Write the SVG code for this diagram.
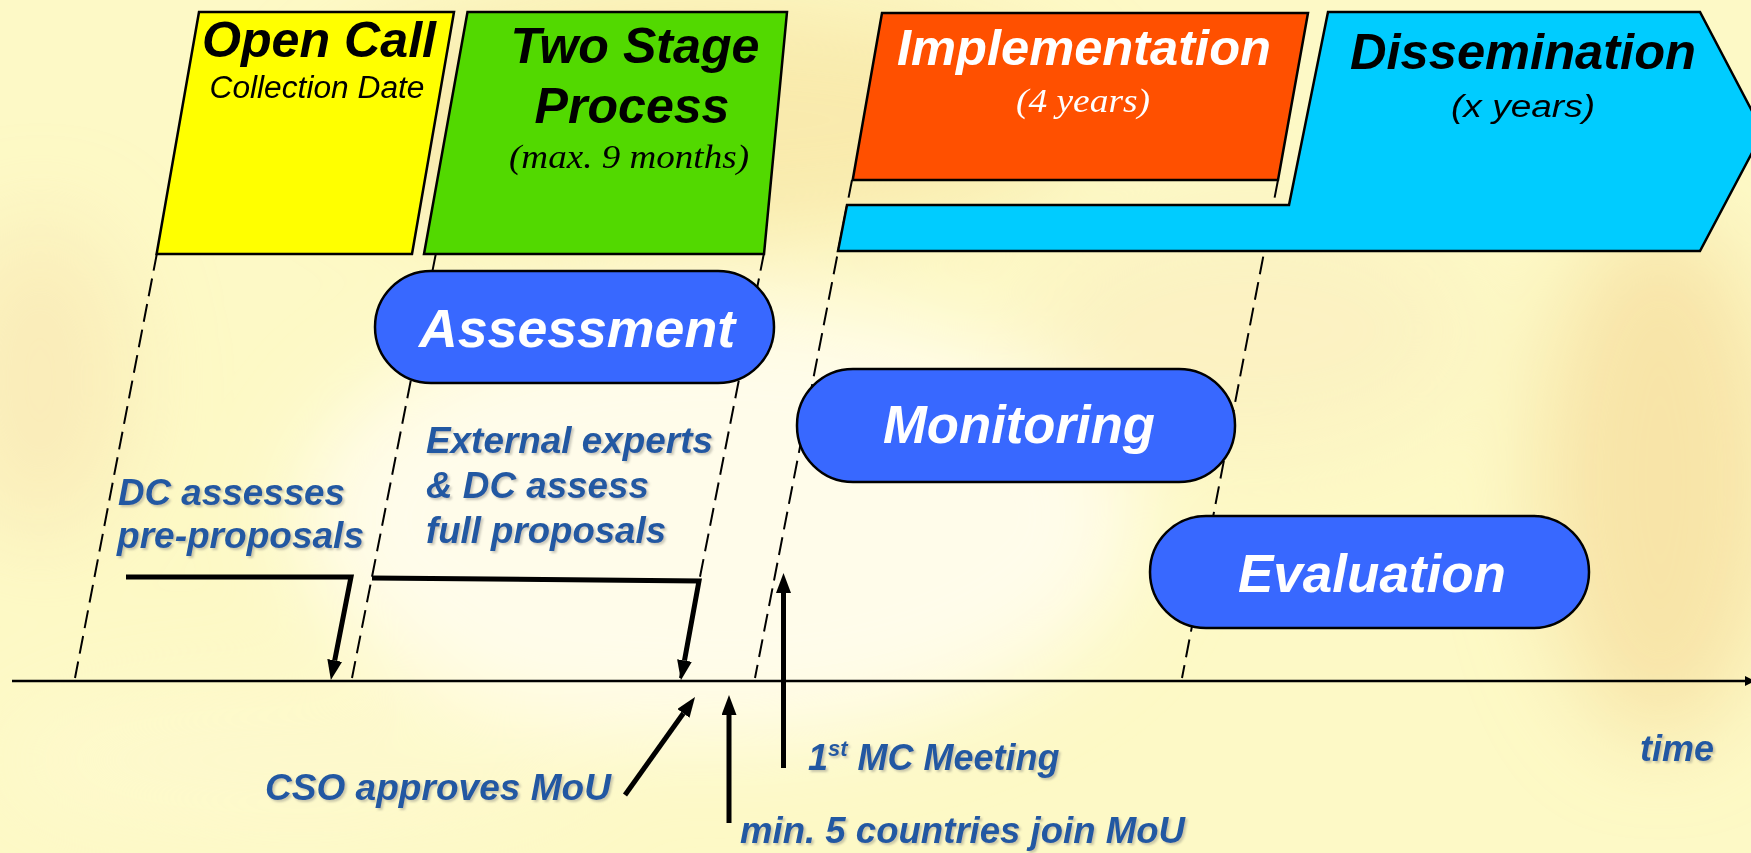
<svg xmlns="http://www.w3.org/2000/svg" width="1751" height="853" viewBox="0 0 1751 853">
<defs>
<style>
.title{font-family:"Liberation Sans",Arial,sans-serif;font-weight:bold;font-style:italic;font-size:50px;text-anchor:middle}
.sub{font-family:"Liberation Sans",Arial,sans-serif;font-style:italic;font-size:31px;text-anchor:middle}
.serif{font-family:"Liberation Serif","Times New Roman",serif;font-style:italic;font-size:34px;text-anchor:middle}
.pill rect{fill:#3868FF;stroke:#000;stroke-width:2.5}
.pilltxt{font-family:"Liberation Sans",Arial,sans-serif;font-weight:bold;font-style:italic;font-size:53px;fill:#fff;text-anchor:middle}
.lbl{font-family:"Liberation Sans",Arial,sans-serif;font-weight:bold;font-style:italic;font-size:36px;fill:#2459A2;filter:url(#shadow)}
.dash{stroke:#000;stroke-width:2;stroke-dasharray:18 8;fill:none}
.bar{stroke:#000;stroke-width:5;fill:none;stroke-linejoin:miter}
.box{stroke:#000;stroke-width:2.5}
</style>
<filter id="shadow" x="-5%" y="-20%" width="110%" height="150%">
<feDropShadow dx="2" dy="2" stdDeviation="0.8" flood-color="#8a8a80" flood-opacity="0.45"/>
</filter>
<filter id="blur" x="-20%" y="-20%" width="140%" height="140%">
<feGaussianBlur stdDeviation="45"/>
</filter>
<marker id="ah" markerUnits="userSpaceOnUse" markerWidth="22" markerHeight="16" refX="0" refY="7.5" orient="auto">
<path d="M0,0 L20,7.5 L0,15 z" fill="#000"/>
</marker>
<marker id="ahs" markerUnits="userSpaceOnUse" markerWidth="12" markerHeight="12" refX="0" refY="5" orient="auto">
<path d="M0,0 L10,5 L0,10 z" fill="#000"/>
</marker>
</defs>

<g id="background">
<rect x="0" y="0" width="1751" height="853" fill="#FDF9C6"/>
<g filter="url(#blur)">
<ellipse cx="720" cy="520" rx="420" ry="220" fill="#FFFCEA"/>
<ellipse cx="700" cy="120" rx="380" ry="120" fill="#F7E4A2" opacity="0.7"/>
<ellipse cx="1660" cy="480" rx="120" ry="260" fill="#F6DFA0" opacity="0.8"/>
<ellipse cx="40" cy="380" rx="90" ry="160" fill="#F8E4B0" opacity="0.6"/>
<ellipse cx="1250" cy="330" rx="220" ry="120" fill="#FBF0C0" opacity="0.7"/>
<ellipse cx="300" cy="760" rx="300" ry="80" fill="#FEFAD0" opacity="0.6"/>
</g>
</g>

<g id="connectors">
<line class="dash" x1="157" y1="253" x2="75" y2="678"/>
<line class="dash" x1="436" y1="253" x2="352" y2="678"/>
<line class="dash" x1="764" y1="253" x2="680" y2="678"/>
<line class="dash" x1="852" y1="180" x2="755" y2="678"/>
<line class="dash" x1="1278" y1="180" x2="1182" y2="678"/>
<line x1="12" y1="681" x2="1745" y2="681" stroke="#000" stroke-width="2.5" marker-end="url(#ahs)"/>
<path class="bar" d="M126,577 L351,577 L334.7,660.4" marker-end="url(#ah)"/>
<path class="bar" d="M372,578 L699,581 L684.5,660.5" marker-end="url(#ah)"/>
<line class="bar" x1="625" y1="795" x2="683.4" y2="713.3" marker-end="url(#ah)"/>
<line class="bar" x1="729" y1="823" x2="729" y2="715" marker-end="url(#ah)"/>
<line class="bar" x1="783.5" y1="768" x2="783.5" y2="593" marker-end="url(#ah)"/>
</g>

<g id="open-call">
<polygon class="box" points="199,12 454,12 412,254 156.6,254" fill="#FFFF00"/>
<text class="title" x="319" y="57" textLength="234" lengthAdjust="spacingAndGlyphs">Open Call</text>
<text class="sub" x="317" y="98" textLength="215" lengthAdjust="spacingAndGlyphs">Collection Date</text>
</g>

<g id="two-stage-process">
<polygon class="box" points="467.5,12 787,12 764,254 424,254" fill="#52D900"/>
<text class="title" x="635" y="63" textLength="249" lengthAdjust="spacingAndGlyphs">Two Stage</text>
<text class="title" x="632" y="123" textLength="195" lengthAdjust="spacingAndGlyphs">Process</text>
<text class="serif" x="629" y="168" textLength="240" lengthAdjust="spacingAndGlyphs">(max. 9 months)</text>
</g>

<g id="dissemination">
<path class="box" d="M1328,12 L1700,12 L1763,132 L1700,251 L838,251 L847,205 L1289,205 Z" fill="#00CCFF"/>
<text class="title" x="1523" y="69" textLength="346" lengthAdjust="spacingAndGlyphs">Dissemination</text>
<text class="sub" x="1523" y="117" font-size="36" textLength="144" lengthAdjust="spacingAndGlyphs">(x years)</text>
</g>

<g id="implementation">
<polygon class="box" points="882,13 1308,13 1278,180 852.7,180" fill="#FF5000"/>
<text class="title" x="1084" y="65" fill="#fff" textLength="374" lengthAdjust="spacingAndGlyphs">Implementation</text>
<text class="serif" x="1083" y="112" fill="#fff" textLength="134" lengthAdjust="spacingAndGlyphs">(4 years)</text>
</g>

<g id="assessment" class="pill">
<rect x="375" y="271" width="399" height="112" rx="56" ry="56"/>
<text class="pilltxt" x="577" y="347" textLength="316" lengthAdjust="spacingAndGlyphs">Assessment</text>
</g>

<g id="monitoring" class="pill">
<rect x="797" y="369" width="438" height="113" rx="56" ry="56"/>
<text class="pilltxt" x="1019" y="443" textLength="272" lengthAdjust="spacingAndGlyphs">Monitoring</text>
</g>

<g id="evaluation" class="pill">
<rect x="1150" y="516" width="439" height="112" rx="56" ry="56"/>
<text class="pilltxt" x="1372" y="592" textLength="268" lengthAdjust="spacingAndGlyphs">Evaluation</text>
</g>

<g id="labels">
<text class="lbl" x="118" y="505" textLength="227" lengthAdjust="spacingAndGlyphs">DC assesses</text>
<text class="lbl" x="117" y="548" textLength="247" lengthAdjust="spacingAndGlyphs">pre-proposals</text>
<text class="lbl" x="426" y="453" textLength="287" lengthAdjust="spacingAndGlyphs">External experts</text>
<text class="lbl" x="426" y="498" textLength="223" lengthAdjust="spacingAndGlyphs">&amp; DC assess</text>
<text class="lbl" x="426" y="543" textLength="240" lengthAdjust="spacingAndGlyphs">full proposals</text>
<text class="lbl" x="265" y="800" textLength="346" lengthAdjust="spacingAndGlyphs">CSO approves MoU</text>
<text class="lbl" x="740" y="843" textLength="445" lengthAdjust="spacingAndGlyphs">min. 5 countries join MoU</text>
<text class="lbl" x="808" y="770">1<tspan font-size="22" dy="-14">st</tspan><tspan dy="14"> MC Meeting</tspan></text>
<text class="lbl" x="1640" y="761" textLength="74" lengthAdjust="spacingAndGlyphs">time</text>
</g>
</svg>
